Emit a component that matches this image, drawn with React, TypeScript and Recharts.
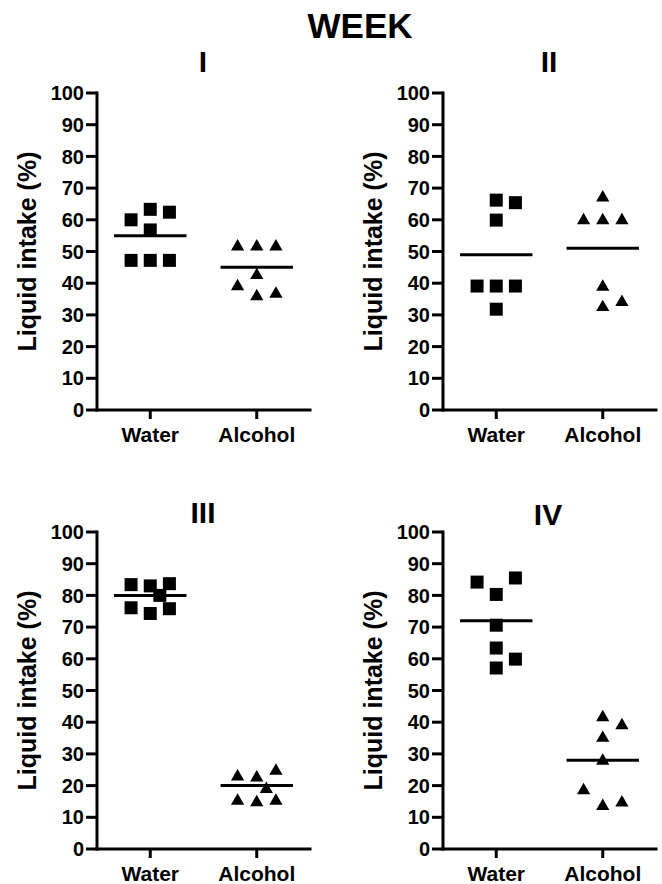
import {
  ScatterChart,
  Scatter,
  XAxis,
  YAxis,
  ReferenceLine,
  Label,
  Symbols,
} from "recharts";

const groups = ["Water", "Alcohol"];
const yTicks = [0, 10, 20, 30, 40, 50, 60, 70, 80, 90, 100];

// week I
const weekIWater = [60, 63.3, 62.4, 56.8, 47.2, 47.2, 47.2];
const weekIWaterSlots = [-1, 0, 1, 0, -1, 0, 1];
const weekIAlcohol = [51.5, 51.5, 51.5, 42.5, 39, 35.8, 36.6];
const weekIAlcoholSlots = [-1, 0, 1, 0, -1, 0, 1];
const weekIMeans = [55, 45];

// week II
const weekIIWater = [66.2, 65.4, 59.9, 39.1, 39.1, 39.1, 31.8];
const weekIIWaterSlots = [0, 1, 0, -1, 0, 1, 0];
const weekIIAlcohol = [67, 59.8, 59.8, 59.8, 38.8, 32.4, 34];
const weekIIAlcoholSlots = [0, -1, 0, 1, 0, 0, 1];
const weekIIMeans = [49, 51];

// week III
const weekIIIWater = [83.4, 83, 83.7, 80, 76.1, 74.3, 75.8];
const weekIIIWaterSlots = [-1, 0, 1, 0.5, -1, 0, 1];
const weekIIIAlcohol = [22.8, 22.5, 24.6, 18.9, 15.2, 14.7, 15.2];
const weekIIIAlcoholSlots = [-1, 0, 1, 0.5, -1, 0, 1];
const weekIIIMeans = [80, 20];

// week IV
const weekIVWater = [84.2, 85.5, 80.3, 70.6, 63.4, 59.9, 57.1];
const weekIVWaterSlots = [-1, 1, 0, 0, 0, 1, 0];
const weekIVAlcohol = [41.5, 39, 35, 27.8, 18.5, 13.5, 14.6];
const weekIVAlcoholSlots = [0, 1, 0, 0, -1, 0, 1];
const weekIVMeans = [72, 28];

const FONT = "'Liberation Sans', Arial, Helvetica, sans-serif";
const JITTER = 0.18;
const HALF_LINE = 0.34;

const toPoints = (values: number[], slots: number[], center: number) =>
  values.map((v, i) => ({ x: center + slots[i] * JITTER, y: v }));

const squareShape = (props: any) => (
  <Symbols cx={props.cx} cy={props.cy} type="square" size={169} fill="#000" />
);
const triangleShape = (props: any) => (
  <Symbols cx={props.cx} cy={props.cy} type="triangle" size={76} fill="#000" />
);

type PanelProps = {
  water: number[];
  waterSlots: number[];
  alcohol: number[];
  alcoholSlots: number[];
  means: number[];
  left: number;
  top: number;
  width: number;
  marginRight: number;
};

function Panel({
  water,
  waterSlots,
  alcohol,
  alcoholSlots,
  means,
  left,
  top,
  width,
  marginRight,
}: PanelProps) {
  const axisLine = { stroke: "#000", strokeWidth: 3, strokeLinecap: "square" as const };
  const tickLine = { stroke: "#000", strokeWidth: 3 };
  return (
    <div style={{ position: "absolute", left, top }}>
      <ScatterChart
        width={width}
        height={450}
        margin={{ top: 93, right: marginRight, bottom: 0, left: 0 }}
      >
        <XAxis
          type="number"
          dataKey="x"
          domain={[0.5, 2.5]}
          ticks={[1, 2]}
          tickFormatter={(v) => groups[Math.round(v) - 1]}
          axisLine={axisLine}
          tickLine={tickLine}
          tickSize={9}
          tickMargin={8}
          height={40}
          tick={{ fill: "#000", fontSize: 21, fontWeight: "bold", fontFamily: FONT }}
        />
        <YAxis
          type="number"
          dataKey="y"
          domain={[0, 100]}
          ticks={yTicks}
          interval={0}
          width={97}
          axisLine={axisLine}
          tickLine={tickLine}
          tickSize={11}
          tickMargin={2}
          tick={{ fill: "#000", fontSize: 20, fontWeight: "bold", fontFamily: FONT }}
        >
          <Label
            value="Liquid intake (%)"
            angle={-90}
            position="insideLeft"
            offset={27}
            style={{
              textAnchor: "middle",
              fill: "#000",
              fontSize: 25,
              fontWeight: "bold",
              fontFamily: FONT,
            }}
          />
        </YAxis>
        <Scatter
          data={toPoints(water, waterSlots, 1)}
          shape={squareShape}
          fill="#000"
          isAnimationActive={false}
        />
        <Scatter
          data={toPoints(alcohol, alcoholSlots, 2)}
          shape={triangleShape}
          fill="#000"
          isAnimationActive={false}
        />
        {means.map((m, i) => (
          <ReferenceLine
            key={i}
            segment={[
              { x: i + 1 - HALF_LINE, y: m },
              { x: i + 1 + HALF_LINE, y: m },
            ]}
            stroke="#000"
            strokeWidth={3}
          />
        ))}
      </ScatterChart>
    </div>
  );
}

export default function App() {
  const titleStyle = { fontFamily: FONT, fontWeight: "bold" as const, fill: "#000" };
  return (
    <div
      style={{
        position: "absolute",
        left: 0,
        top: 0,
        width: 662,
        height: 884,
        overflow: "hidden",
        background: "#fff",
      }}
    >
      <svg width={662} height={884} style={{ position: "absolute", left: 0, top: 0 }}>
        <text x={360} y={38} textAnchor="middle" fontSize={35} style={titleStyle}>
          WEEK
        </text>
        <text x={203} y={72} textAnchor="middle" fontSize={30} style={titleStyle}>
          I
        </text>
        <text x={549} y={72} textAnchor="middle" fontSize={30} style={titleStyle}>
          II
        </text>
        <text x={203} y={523} textAnchor="middle" fontSize={30} style={titleStyle}>
          III
        </text>
        <text x={548} y={525} textAnchor="middle" fontSize={30} style={titleStyle}>
          IV
        </text>
      </svg>
      <Panel
        water={weekIWater}
        waterSlots={weekIWaterSlots}
        alcohol={weekIAlcohol}
        alcoholSlots={weekIAlcoholSlots}
        means={weekIMeans}
        left={0}
        top={0}
        width={331}
        marginRight={21}
      />
      <Panel
        water={weekIIWater}
        waterSlots={weekIIWaterSlots}
        alcohol={weekIIAlcohol}
        alcoholSlots={weekIIAlcoholSlots}
        means={weekIIMeans}
        left={346}
        top={0}
        width={316}
        marginRight={6}
      />
      <Panel
        water={weekIIIWater}
        waterSlots={weekIIIWaterSlots}
        alcohol={weekIIIAlcohol}
        alcoholSlots={weekIIIAlcoholSlots}
        means={weekIIIMeans}
        left={0}
        top={439}
        width={331}
        marginRight={21}
      />
      <Panel
        water={weekIVWater}
        waterSlots={weekIVWaterSlots}
        alcohol={weekIVAlcohol}
        alcoholSlots={weekIVAlcoholSlots}
        means={weekIVMeans}
        left={346}
        top={439}
        width={316}
        marginRight={6}
      />
    </div>
  );
}
